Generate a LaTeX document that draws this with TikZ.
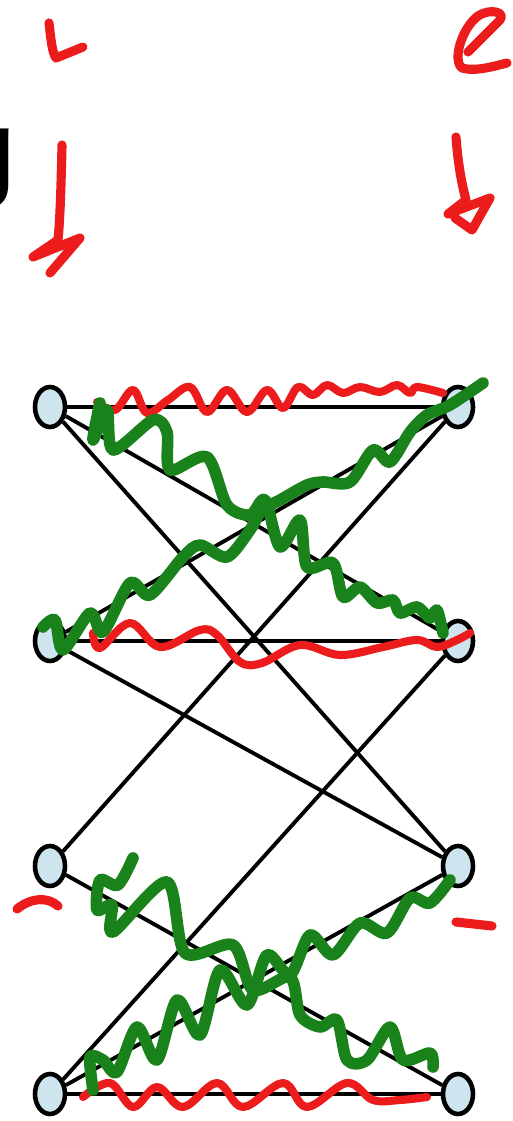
\documentclass[tikz,border=0pt]{standalone}
\usepackage{fontspec}
\newfontfamily\slidefont{Liberation Sans}
\usetikzlibrary{shapes.geometric}
\definecolor{inkred}{RGB}{236,28,28}
\definecolor{inkgreen}{RGB}{26,130,26}
\definecolor{vtxfill}{RGB}{206,228,238}
\tikzset{
  vtx/.style={ellipse,draw,line width=2.6pt,fill=vtxfill,minimum width=0.6cm,minimum height=0.8cm,inner sep=0pt},
  wire/.style={line width=2.2pt},
  redpen/.style={inkred,line width=4.6pt,line cap=round,line join=round},
  markpen/.style={inkred,line width=5.2pt,line cap=round,line join=round},
  greenpen/.style={inkgreen,line width=6.6pt,line cap=round,line join=round},
}

\begin{document}
\begin{tikzpicture}[x=0.02cm,y=-0.02cm]
\useasboundingbox (0,0) rectangle (512,1121);
% cut-off slide title
\node[anchor=base west,inner sep=0pt,font=\slidefont\fontsize{62}{62}\selectfont] (title) at (-45,187) {g};
% vertices
\node[vtx] (l1) at (50,407) {};
\node[vtx] (r1) at (458,407) {};
\node[vtx] (l2) at (50,641) {};
\node[vtx] (r2) at (458,641) {};
\node[vtx] (l3) at (50,866) {};
\node[vtx] (r3) at (458,866) {};
\node[vtx] (l4) at (50,1094) {};
\node[vtx] (r4) at (458,1094) {};
% edges
\foreach \a/\b in {l1/r1,l1/r2,l1/r3,r1/l2,r1/l3,l2/r2,l2/r3,r2/l4,l3/r4,l4/r3,l4/r4}
  \draw[wire] (\a) -- (\b);
% red scribbles
\draw[redpen] plot[smooth,tension=0.6] coordinates {(97,402) (115,410) (133,390) (147,413) (168,400) (190,387) (207,412) (227,390) (247,412) (267,390) (283,408) (298,387) (313,395) (327,385) (343,393) (360,387) (380,392) (397,385) (410,393) (417,387) (443,393)};
\draw[redpen] plot[smooth,tension=0.6] coordinates {(93,633) (100,648) (130,623) (160,647) (200,630) (217,635) (240,662) (262,663) (300,645) (340,655) (383,647) (417,640) (437,647) (457,640) (470,633)};
\draw[redpen] plot[smooth,tension=0.6] coordinates {(83,1097) (110,1083) (133,1107) (157,1087) (183,1107) (217,1083) (243,1107) (283,1083) (307,1107) (347,1083) (373,1100) (400,1100) (427,1097)};
% green scribbles
\draw[greenpen] plot[smooth,tension=0.5] coordinates {(100,403) (93,440) (107,410) (113,450) (153,420) (167,432) (170,470) (207,457) (227,505) (250,515) (265,500) (280,547) (300,520) (307,567) (333,563) (343,597) (360,587) (377,603) (393,600) (400,613) (417,607) (430,618) (437,610) (443,633)};
\draw[greenpen] plot[smooth,tension=0.5] coordinates {(43,627) (55,620) (63,650) (90,613) (103,632) (130,583) (150,595) (183,557) (200,545) (227,557) (250,530) (262,510) (280,500) (307,485) (323,482) (350,482) (373,450) (390,462) (410,432) (427,415) (450,405) (483,383)};
\draw[greenpen] plot[smooth,tension=0.5] coordinates {(133,858) (118,885) (100,880) (97,910) (112,905) (113,932) (167,882) (185,953) (233,945) (253,990) (290,977) (300,1015) (320,1027) (337,1020) (347,1060) (367,1060) (390,1027) (403,1060) (430,1053) (433,1067)};
\draw[greenpen] plot[smooth,tension=0.5] coordinates {(93,1090) (90,1057) (103,1060) (117,1072) (137,1027) (157,1060) (177,1000) (200,1035) (220,970) (247,1005) (267,955) (290,975) (310,935) (333,955) (360,923) (387,933) (410,898) (430,903) (450,880)};
% handwritten marks
\draw[markpen] (49,23) .. controls (51,40) and (52,52) .. (56,58) -- (83,47);
\draw[markpen] (62,145) .. controls (61,190) and (60,220) .. (58,240) -- (33,257) -- (80,238) -- (50,273);
\draw[markpen] (468,52) -- (500,20) .. controls (506,12) and (490,8) .. (478,16) .. controls (462,28) and (452,60) .. (462,68) .. controls (475,72) and (495,66) .. (507,63);
\draw[markpen] (456,137) .. controls (458,165) and (462,185) .. (466,200) -- (448,214) -- (490,198) -- (472,230) -- (455,218);
\draw[markpen] (17,909) .. controls (32,897) and (48,897) .. (58,906);
\draw[markpen] (456,922) -- (492,926);
\end{tikzpicture}
\end{document}
